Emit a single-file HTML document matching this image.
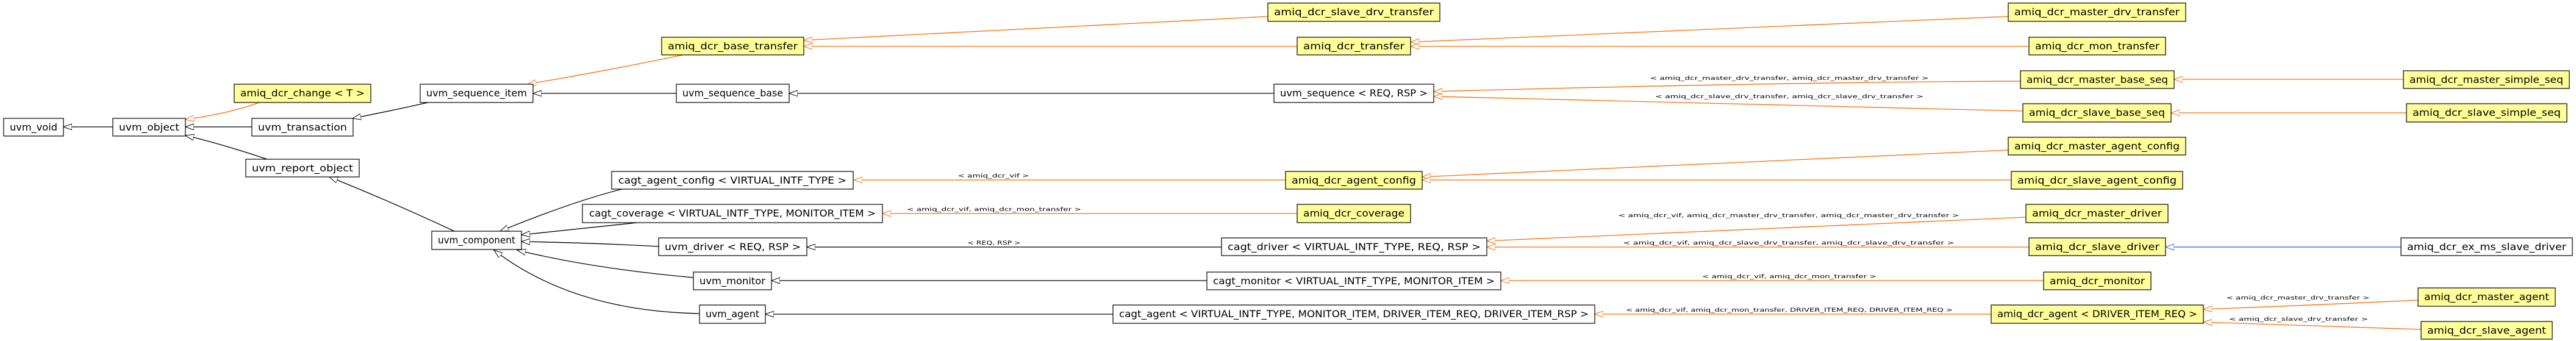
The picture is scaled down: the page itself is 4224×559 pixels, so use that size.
<!DOCTYPE html>
<html><head><meta charset="utf-8"><style>
html,body{margin:0;padding:0;background:#fff;}
svg{display:block;}
text{font-family:"DejaVu Sans","Liberation Sans",sans-serif;}
.b{font-size:16px;text-anchor:middle;fill:#000;}
.l{font-size:9px;text-anchor:middle;fill:#000;}
rect{stroke:#000;stroke-width:1.2;}
.y{fill:#ffff99;}
.w{fill:#fff;}
path{fill:none;stroke-width:1.3;}
.k{stroke:#000;}
.o{stroke:#ff6a00;}
.u{stroke:#1f5fff;}
</style></head><body>
<svg width="4224" height="559" viewBox="0 0 4224 559" xmlns="http://www.w3.org/2000/svg">
<defs>
<marker id="ak" markerUnits="userSpaceOnUse" markerWidth="16" markerHeight="12" refX="14" refY="6" orient="auto"><path d="M0,6 L14,1 L14,11 Z" transform="rotate(180 7 6)" style="fill:#fff;stroke:#000;stroke-width:1"/></marker>
<marker id="ao" markerUnits="userSpaceOnUse" markerWidth="16" markerHeight="12" refX="14" refY="6" orient="auto"><path d="M0,6 L14,1 L14,11 Z" transform="rotate(180 7 6)" style="fill:#fff;stroke:#ff6a00;stroke-width:1"/></marker>
<marker id="au" markerUnits="userSpaceOnUse" markerWidth="16" markerHeight="12" refX="14" refY="6" orient="auto"><path d="M0,6 L14,1 L14,11 Z" transform="rotate(180 7 6)" style="fill:#fff;stroke:#1f5fff;stroke-width:1"/></marker>
</defs>

<!-- edges -->
<path class="k" marker-end="url(#ak)" d="M185,208 L104,208"/>
<path class="k" marker-end="url(#ak)" d="M413,208 L304,208"/>
<path class="o" marker-end="url(#ao)" d="M425,168 Q380,185 304,196"/>
<path class="k" marker-end="url(#ak)" d="M438,261 Q360,235 304,222"/>
<path class="k" marker-end="url(#ak)" d="M702,168 Q640,182 578,194"/>
<path class="o" marker-end="url(#ao)" d="M1120,90 Q1000,115 865,138"/>
<path class="k" marker-end="url(#ak)" d="M1109,153 L874,153"/>
<path class="k" marker-end="url(#ak)" d="M2089,153 L1294,153"/>
<path class="o" marker-end="url(#ao)" d="M2079,27 Q1700,45 1318,66"/>
<path class="o" marker-end="url(#ao)" d="M2127,76 L1318,76"/>
<path class="o" marker-end="url(#ao)" d="M3293,27 Q2800,48 2313,69"/>
<path class="o" marker-end="url(#ao)" d="M3327,76 L2313,76"/>
<path class="o" marker-end="url(#ao)" d="M3313,133 Q2900,135 2351,150"/>
<path class="o" marker-end="url(#ao)" d="M3317,182 Q2900,172 2351,158"/>
<path class="o" marker-end="url(#ao)" d="M3941,130 L3565,130"/>
<path class="o" marker-end="url(#ao)" d="M3946,185 L3560,185"/>
<path class="k" marker-end="url(#ak)" d="M1020,310 Q940,330 820,379"/>
<path class="k" marker-end="url(#ak)" d="M1045,365 Q950,375 855,385"/>
<path class="k" marker-end="url(#ak)" d="M1080,404 Q970,398 855,396"/>
<path class="k" marker-end="url(#ak)" d="M1137,455 Q970,440 848,410"/>
<path class="k" marker-end="url(#ak)" d="M1147,514 Q940,510 810,410"/>
<path class="k" marker-end="url(#ak)" d="M745,379 Q640,330 540,290"/>
<path class="o" marker-end="url(#ao)" d="M2108,295 L1400,295"/>
<path class="o" marker-end="url(#ao)" d="M3293,246 Q2800,270 2332,290"/>
<path class="o" marker-end="url(#ao)" d="M3298,295 L2332,295"/>
<path class="o" marker-end="url(#ao)" d="M2127,350 L1447,350"/>
<path class="k" marker-end="url(#ak)" d="M2003,405 L1323,405"/>
<path class="o" marker-end="url(#ao)" d="M3322,356 Q2880,375 2438,395"/>
<path class="o" marker-end="url(#ao)" d="M3327,405 L2438,405"/>
<path class="u" marker-end="url(#au)" d="M3937,405 L3551,405"/>
<path class="k" marker-end="url(#ak)" d="M1979,460 L1265,460"/>
<path class="o" marker-end="url(#ao)" d="M3351,460 L2461,460"/>
<path class="k" marker-end="url(#ak)" d="M1825,515 L1255,515"/>
<path class="o" marker-end="url(#ao)" d="M3265,515 L2615,515"/>
<path class="o" marker-end="url(#ao)" d="M3965,492 Q3800,500 3613,507"/>
<path class="o" marker-end="url(#ao)" d="M3970,540 Q3800,535 3613,528"/>

<!-- edge labels -->
<text class="l" x="2934" y="131" textLength="457" lengthAdjust="spacingAndGlyphs">&lt; amiq_dcr_master_drv_transfer, amiq_dcr_master_drv_transfer &gt;</text>
<text class="l" x="2934" y="161" textLength="440" lengthAdjust="spacingAndGlyphs">&lt; amiq_dcr_slave_drv_transfer, amiq_dcr_slave_drv_transfer &gt;</text>
<text class="l" x="1629" y="291" textLength="117" lengthAdjust="spacingAndGlyphs">&lt; amiq_dcr_vif &gt;</text>
<text class="l" x="1630" y="346" textLength="286" lengthAdjust="spacingAndGlyphs">&lt; amiq_dcr_vif, amiq_dcr_mon_transfer &gt;</text>
<text class="l" x="1630" y="401" textLength="87" lengthAdjust="spacingAndGlyphs">&lt; REQ, RSP &gt;</text>
<text class="l" x="2933" y="356" textLength="559" lengthAdjust="spacingAndGlyphs">&lt; amiq_dcr_vif, amiq_dcr_master_drv_transfer, amiq_dcr_master_drv_transfer &gt;</text>
<text class="l" x="2933" y="401" textLength="543" lengthAdjust="spacingAndGlyphs">&lt; amiq_dcr_vif, amiq_dcr_slave_drv_transfer, amiq_dcr_slave_drv_transfer &gt;</text>
<text class="l" x="2934" y="456" textLength="286" lengthAdjust="spacingAndGlyphs">&lt; amiq_dcr_vif, amiq_dcr_mon_transfer &gt;</text>
<text class="l" x="2934" y="511" textLength="536" lengthAdjust="spacingAndGlyphs">&lt; amiq_dcr_vif, amiq_dcr_mon_transfer, DRIVER_ITEM_REQ, DRIVER_ITEM_REQ &gt;</text>
<text class="l" x="3768" y="491" textLength="235" lengthAdjust="spacingAndGlyphs">&lt; amiq_dcr_master_drv_transfer &gt;</text>
<text class="l" x="3769" y="526" textLength="228" lengthAdjust="spacingAndGlyphs">&lt; amiq_dcr_slave_drv_transfer &gt;</text>

<!-- boxes -->
<rect class="w" x="6" y="194" width="98" height="29"/><text class="b" x="55" y="214" textLength="78" lengthAdjust="spacingAndGlyphs">uvm_void</text>
<rect class="w" x="185" y="194" width="119" height="29"/><text class="b" x="244.5" y="214" textLength="99" lengthAdjust="spacingAndGlyphs">uvm_object</text>
<rect class="w" x="413" y="194" width="166" height="29"/><text class="b" x="496" y="214" textLength="146" lengthAdjust="spacingAndGlyphs">uvm_transaction</text>
<rect class="y" x="384" y="138" width="224" height="30"/><text class="b" x="496" y="158" textLength="204" lengthAdjust="spacingAndGlyphs">amiq_dcr_change &lt; T &gt;</text>
<rect class="w" x="689" y="138" width="185" height="30"/><text class="b" x="781.5" y="158" textLength="165" lengthAdjust="spacingAndGlyphs">uvm_sequence_item</text>
<rect class="y" x="1085" y="61" width="233" height="29"/><text class="b" x="1201.5" y="81" textLength="213" lengthAdjust="spacingAndGlyphs">amiq_dcr_base_transfer</text>
<rect class="w" x="1109" y="138" width="185" height="30"/><text class="b" x="1201.5" y="158" textLength="165" lengthAdjust="spacingAndGlyphs">uvm_sequence_base</text>
<rect class="w" x="403" y="261" width="186" height="29"/><text class="b" x="496" y="281" textLength="166" lengthAdjust="spacingAndGlyphs">uvm_report_object</text>
<rect class="w" x="1003" y="281" width="396" height="29"/><text class="b" x="1201" y="301" textLength="374" lengthAdjust="spacingAndGlyphs">cagt_agent_config &lt; VIRTUAL_INTF_TYPE &gt;</text>
<rect class="w" x="955" y="335" width="492" height="30"/><text class="b" x="1201" y="355" textLength="470" lengthAdjust="spacingAndGlyphs">cagt_coverage &lt; VIRTUAL_INTF_TYPE, MONITOR_ITEM &gt;</text>
<rect class="w" x="708" y="379" width="147" height="30"/><text class="b" x="781.5" y="399" textLength="127" lengthAdjust="spacingAndGlyphs">uvm_component</text>
<rect class="w" x="1080" y="390" width="243" height="29"/><text class="b" x="1201.5" y="410" textLength="223" lengthAdjust="spacingAndGlyphs">uvm_driver &lt; REQ, RSP &gt;</text>
<rect class="w" x="1137" y="446" width="128" height="29"/><text class="b" x="1201" y="466" textLength="108" lengthAdjust="spacingAndGlyphs">uvm_monitor</text>
<rect class="w" x="1147" y="500" width="108" height="30"/><text class="b" x="1201" y="520" textLength="88" lengthAdjust="spacingAndGlyphs">uvm_agent</text>
<rect class="y" x="2079" y="5" width="282" height="30"/><text class="b" x="2220" y="25" textLength="262" lengthAdjust="spacingAndGlyphs">amiq_dcr_slave_drv_transfer</text>
<rect class="y" x="2127" y="61" width="186" height="29"/><text class="b" x="2220" y="81" textLength="166" lengthAdjust="spacingAndGlyphs">amiq_dcr_transfer</text>
<rect class="w" x="2089" y="138" width="262" height="30"/><text class="b" x="2220" y="158" textLength="242" lengthAdjust="spacingAndGlyphs">uvm_sequence &lt; REQ, RSP &gt;</text>
<rect class="y" x="2108" y="281" width="224" height="29"/><text class="b" x="2220" y="301" textLength="204" lengthAdjust="spacingAndGlyphs">amiq_dcr_agent_config</text>
<rect class="y" x="2127" y="335" width="186" height="30"/><text class="b" x="2220" y="355" textLength="166" lengthAdjust="spacingAndGlyphs">amiq_dcr_coverage</text>
<rect class="w" x="2003" y="390" width="435" height="29"/><text class="b" x="2220.5" y="410" textLength="415" lengthAdjust="spacingAndGlyphs">cagt_driver &lt; VIRTUAL_INTF_TYPE, REQ, RSP &gt;</text>
<rect class="w" x="1979" y="446" width="482" height="29"/><text class="b" x="2220" y="466" textLength="462" lengthAdjust="spacingAndGlyphs">cagt_monitor &lt; VIRTUAL_INTF_TYPE, MONITOR_ITEM &gt;</text>
<rect class="w" x="1825" y="500" width="790" height="30"/><text class="b" x="2220" y="520" textLength="770" lengthAdjust="spacingAndGlyphs">cagt_agent &lt; VIRTUAL_INTF_TYPE, MONITOR_ITEM, DRIVER_ITEM_REQ, DRIVER_ITEM_RSP &gt;</text>
<rect class="y" x="3293" y="5" width="291" height="30"/><text class="b" x="3438.5" y="25" textLength="271" lengthAdjust="spacingAndGlyphs">amiq_dcr_master_drv_transfer</text>
<rect class="y" x="3327" y="61" width="224" height="29"/><text class="b" x="3439" y="81" textLength="204" lengthAdjust="spacingAndGlyphs">amiq_dcr_mon_transfer</text>
<rect class="y" x="3313" y="116" width="252" height="29"/><text class="b" x="3439" y="136" textLength="232" lengthAdjust="spacingAndGlyphs">amiq_dcr_master_base_seq</text>
<rect class="y" x="3317" y="170" width="243" height="30"/><text class="b" x="3438.5" y="190" textLength="223" lengthAdjust="spacingAndGlyphs">amiq_dcr_slave_base_seq</text>
<rect class="y" x="3941" y="116" width="272" height="29"/><text class="b" x="4077" y="136" textLength="252" lengthAdjust="spacingAndGlyphs">amiq_dcr_master_simple_seq</text>
<rect class="y" x="3946" y="170" width="263" height="30"/><text class="b" x="4077.5" y="190" textLength="243" lengthAdjust="spacingAndGlyphs">amiq_dcr_slave_simple_seq</text>
<rect class="y" x="3293" y="225" width="291" height="29"/><text class="b" x="3438.5" y="245" textLength="271" lengthAdjust="spacingAndGlyphs">amiq_dcr_master_agent_config</text>
<rect class="y" x="3298" y="281" width="281" height="29"/><text class="b" x="3438.5" y="301" textLength="261" lengthAdjust="spacingAndGlyphs">amiq_dcr_slave_agent_config</text>
<rect class="y" x="3322" y="335" width="233" height="30"/><text class="b" x="3438.5" y="355" textLength="213" lengthAdjust="spacingAndGlyphs">amiq_dcr_master_driver</text>
<rect class="y" x="3327" y="390" width="224" height="29"/><text class="b" x="3439" y="410" textLength="204" lengthAdjust="spacingAndGlyphs">amiq_dcr_slave_driver</text>
<rect class="w" x="3937" y="390" width="281" height="29"/><text class="b" x="4077.5" y="410" textLength="261" lengthAdjust="spacingAndGlyphs">amiq_dcr_ex_ms_slave_driver</text>
<rect class="y" x="3351" y="446" width="176" height="29"/><text class="b" x="3439" y="466" textLength="156" lengthAdjust="spacingAndGlyphs">amiq_dcr_monitor</text>
<rect class="y" x="3265" y="500" width="348" height="30"/><text class="b" x="3439" y="520" textLength="328" lengthAdjust="spacingAndGlyphs">amiq_dcr_agent &lt; DRIVER_ITEM_REQ &gt;</text>
<rect class="y" x="3965" y="472" width="225" height="30"/><text class="b" x="4077.5" y="492" textLength="205" lengthAdjust="spacingAndGlyphs">amiq_dcr_master_agent</text>
<rect class="y" x="3970" y="527" width="215" height="29"/><text class="b" x="4077.5" y="547" textLength="195" lengthAdjust="spacingAndGlyphs">amiq_dcr_slave_agent</text>
</svg>
</body></html>
